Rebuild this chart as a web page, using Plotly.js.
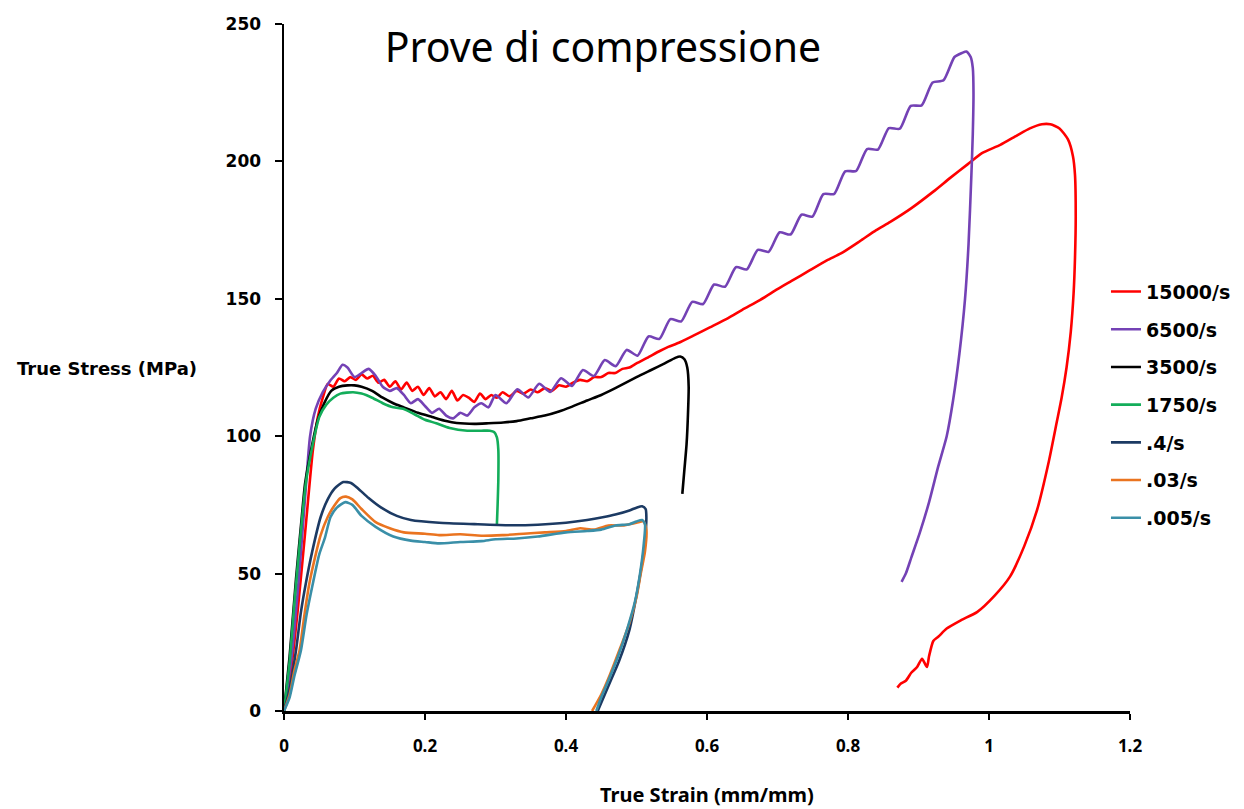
<!DOCTYPE html>
<html>
<head>
<meta charset="utf-8">
<script src="https://cdn.plot.ly/plotly-3.0.1.min.js"></script>
<style>html,body{margin:0;padding:0;background:#fff;}#chart{width:1244px;height:809px;}</style>
</head>
<body>
<div id="chart"></div>
<script>
// Series names (legend labels)
const seriesNames = ["15000/s", "6500/s", "3500/s", "1750/s", ".4/s", ".03/s", ".005/s"];

// 15000/s
const strain15000 = [0,0.01,0.02,0.03,0.041,0.048,0.055,0.062,0.07,0.078,0.086,0.094,0.102,0.11,0.118,0.126,0.134,0.142,0.15,0.158,0.166,0.174,0.182,0.19,0.198,0.206,0.214,0.222,0.23,0.238,0.246,0.254,0.262,0.27,0.278,0.286,0.294,0.302,0.31,0.32,0.33,0.34,0.35,0.36,0.37,0.38,0.39,0.4,0.41,0.42,0.43,0.44,0.45,0.46,0.47,0.48,0.49,0.5,0.515,0.533,0.545,0.56,0.58,0.604,0.63,0.65,0.675,0.7,0.72,0.746,0.77,0.79,0.817,0.84,0.86,0.89,0.921,0.945,0.97,0.99,1.016,1.04,1.058,1.075,1.087,1.1,1.112,1.119,1.122,1.123,1.122,1.12,1.116,1.11,1.103,1.096,1.085,1.068,1.05,1.03,1.008,0.983,0.96,0.94,0.928,0.921,0.915,0.912,0.905,0.898,0.89,0.882,0.875,0.87];
const stress15000 = [0,15,38,65,95,107,114,119,118,121,120,121.5,120.5,122.5,121,122,119.5,120.5,118,120,117,119.5,116.5,118,115,117.5,114.5,116,113.5,116.5,113,115,114,112.5,115.5,113.5,115,114,116,114.5,116.5,115.5,117,116,117.5,116.5,118.5,118,119.5,120.5,120,121.5,121.5,123,123,124.5,125,126.5,128.5,131,132.5,134,136.5,139.6,143,146,149.5,153.5,156.5,160.4,164,166.5,171,175,178,183,189,194,199,203,206,209.5,212,213.5,213.5,212,208,202,195,180,165,152,138,125,114,105,91,73,60,49,42,36,33,30,27,25.5,20,16,19,16,14,11,10,8.5];

// 6500/s
const strain6500 = [0,0.01,0.02,0.03,0.037,0.045,0.055,0.065,0.075,0.083,0.09,0.1,0.11,0.12,0.13,0.14,0.15,0.16,0.17,0.18,0.19,0.2,0.21,0.22,0.23,0.24,0.25,0.26,0.27,0.28,0.29,0.3,0.3155,0.331,0.3465,0.362,0.3775,0.393,0.4085,0.424,0.4395,0.455,0.4705,0.486,0.5015,0.517,0.5325,0.548,0.5635,0.579,0.5945,0.61,0.6255,0.641,0.6565,0.672,0.6875,0.703,0.7185,0.734,0.7495,0.765,0.7805,0.796,0.8115,0.827,0.8425,0.858,0.8735,0.889,0.9045,0.92,0.9355,0.951,0.962,0.968,0.974,0.977,0.978,0.977,0.975,0.971,0.966,0.958,0.949,0.94,0.928,0.915,0.902,0.89,0.882,0.876];
const stress6500 = [0,18,45,78,100,110,116,120,123,126,125,121.5,123,124.5,122,118,116.5,117.5,115,112,113.5,111,108.5,110,107.5,106.5,108.5,107.5,110.5,112,110.5,115,112,117.1,114.1,119.1,116.1,121.1,118.3,124.1,121.9,127.7,125.5,131.4,129.3,136.3,135.4,142.6,141.8,148.9,148.1,155.2,154.4,161.5,160.7,167.8,167.1,174.2,173.4,180.6,179.9,188.1,188.2,196.4,196.5,204.5,204.3,212.1,211.9,220.2,220.4,228.7,229.5,238,239.5,240,238,234,225,210,195,170,150,130,113,100,89,76,65,56,50,47];

// 3500/s
const strain3500 = [0,0.008,0.017,0.025,0.03,0.04,0.048,0.057,0.067,0.078,0.09,0.1,0.11,0.125,0.14,0.155,0.17,0.19,0.21,0.23,0.245,0.27,0.29,0.311,0.33,0.35,0.37,0.39,0.406,0.43,0.45,0.47,0.5,0.52,0.54,0.555,0.562,0.568,0.572,0.574,0.573,0.571,0.568,0.565];
const stress3500 = [0,20,48,70,83,97,106,112,116.5,118,118.5,118.5,118,116.5,114,112,110.5,108.5,107,105.5,104.8,104.5,104.7,105,105.5,106.5,107.5,109,110.5,113,115,117.5,121.5,124,126.5,128.5,129,128,125,118,108,97,88,79];

// 1750/s
const strain1750 = [0,0.008,0.015,0.022,0.031,0.04,0.05,0.06,0.07,0.08,0.098,0.11,0.125,0.14,0.155,0.169,0.185,0.2,0.216,0.235,0.26,0.28,0.292,0.298,0.302,0.304,0.304,0.303,0.302];
const stress1750 = [0,18,40,60,83,96,107,111.5,114,115.5,116,115.5,114,112,110.5,110,108,106,104.7,103,102,102,102,101.5,99.6,95,84,75,68];

// .4/s
const strain04 = [0,0.008,0.017,0.024,0.031,0.04,0.052,0.062,0.072,0.084,0.095,0.105,0.12,0.138,0.16,0.18,0.22,0.27,0.32,0.36,0.4,0.43,0.452,0.47,0.49,0.5,0.508,0.513,0.514,0.512,0.508,0.5,0.49,0.475,0.465,0.455,0.445];
const stress04 = [0,8,22,36,46.5,58,70.6,77,81,83.3,83,81,77.5,74,71,69.5,68.5,68,67.6,67.8,68.5,69.5,70.5,71.5,73,74,74.5,73.5,70.5,62,54,42,29.5,18,12,6,0];

// .03/s
const strain003 = [0,0.008,0.015,0.022,0.029,0.036,0.045,0.052,0.062,0.072,0.08,0.088,0.097,0.11,0.13,0.15,0.17,0.2,0.22,0.25,0.28,0.31,0.34,0.37,0.4,0.42,0.44,0.46,0.48,0.5,0.51,0.514,0.512,0.506,0.5,0.49,0.477,0.462,0.45,0.437];
const stress003 = [0,6,15,22,35,46.5,57,64,70.6,75,77.5,78,77,73.5,68.7,66.5,65,64.5,64,64.3,63.8,64,64.5,65,65.5,66.5,66,67.5,67.5,68.5,69,66,58,50,41.5,32,23,13,6,0];

// .005/s
const strain0005 = [0,0.008,0.015,0.024,0.032,0.041,0.05,0.058,0.066,0.075,0.087,0.097,0.11,0.13,0.155,0.18,0.2,0.22,0.25,0.28,0.3,0.33,0.36,0.4,0.43,0.45,0.47,0.49,0.5,0.508,0.512,0.51,0.505,0.498,0.487,0.474,0.46,0.45,0.443];
const stress0005 = [0,5,13,22,35,46.5,57,63,70.6,74,76,75,71,67,63.5,62,61.5,61,61.5,61.8,62.5,62.8,63.5,65,65.5,66,67.5,68,69,69.5,68,60,50,40,30,20,11,5,0];

const xTicks = [0, 0.2, 0.4, 0.6, 0.8, 1, 1.2];
const yTicks = [0, 50, 100, 150, 200, 250];

const colors = ["#ff0000", "#7442b5", "#000000", "#13ad5a", "#1c3a63", "#ea7420", "#3a8fa8"];
const xs = [strain15000, strain6500, strain3500, strain1750, strain04, strain003, strain0005];
const ys = [stress15000, stress6500, stress3500, stress1750, stress04, stress003, stress0005];

const traces = seriesNames.map((n, i) => ({
  type: "scatter", mode: "lines", name: n, legendgroup: "g" + i,
  x: xs[i], y: ys[i],
  line: {color: colors[i], width: 2.6, shape: "spline", smoothing: 0.6}
}));

const tickFontY = {family: "DejaVu Sans, Verdana, sans-serif", size: 17, color: "#000", weight: "bold"};
const tickFontX = {family: "Noto Sans, Calibri, sans-serif", size: 17, color: "#000", weight: "bold"};

const layout = {
  width: 1244, height: 809,
  paper_bgcolor: "#fff", plot_bgcolor: "#fff",
  margin: {l: 284, r: 114, t: 24, b: 98, autoexpand: false},
  title: {text: "Prove di compressione", x: 603/1244, y: 1 - 48/809, xanchor: "center", yanchor: "middle",
          font: {family: "Noto Sans, Calibri, sans-serif", size: 41, color: "#000"}},
  xaxis: {range: [0, 1.2], tickvals: xTicks, ticks: "outside", ticklen: 6, tickwidth: 2, tickcolor: "#000",
          showline: true, linewidth: 2.5, linecolor: "#000", showgrid: false, zeroline: false,
          tickfont: tickFontX, ticklabelstandoff: 12, fixedrange: true},
  yaxis: {range: [0, 250], tickvals: yTicks, ticks: "outside", ticklen: 7, tickwidth: 2, tickcolor: "#000",
          showline: true, linewidth: 2.5, linecolor: "#000", showgrid: false, zeroline: false,
          tickfont: tickFontY, ticklabelstandoff: 10, fixedrange: true},
  showlegend: true,
  legend: {x: 0.9716, y: 0.638, xanchor: "left", yanchor: "top", bgcolor: "rgba(0,0,0,0)",
           font: {family: "DejaVu Sans, Verdana, sans-serif", size: 19, color: "#000", weight: "bold"},
           tracegroupgap: 10, borderwidth: 0},
  annotations: [
    {text: "True Stress (MPa)", xref: "paper", yref: "paper", x: (15-284)/846, y: (711-368)/687,
     xanchor: "left", yanchor: "middle", showarrow: false,
     font: {family: "DejaVu Sans, Verdana, sans-serif", size: 18, color: "#000", weight: "bold"}},
    {text: "True Strain (mm/mm)", xref: "paper", yref: "paper", x: (707-284)/846, y: (711-794)/687,
     xanchor: "center", yanchor: "middle", showarrow: false,
     font: {family: "Noto Sans, Calibri, sans-serif", size: 20, color: "#000", weight: "bold"}}
  ]
};

Plotly.newPlot("chart", traces, layout, {displayModeBar: false, staticPlot: true});
</script>
</body>
</html>
